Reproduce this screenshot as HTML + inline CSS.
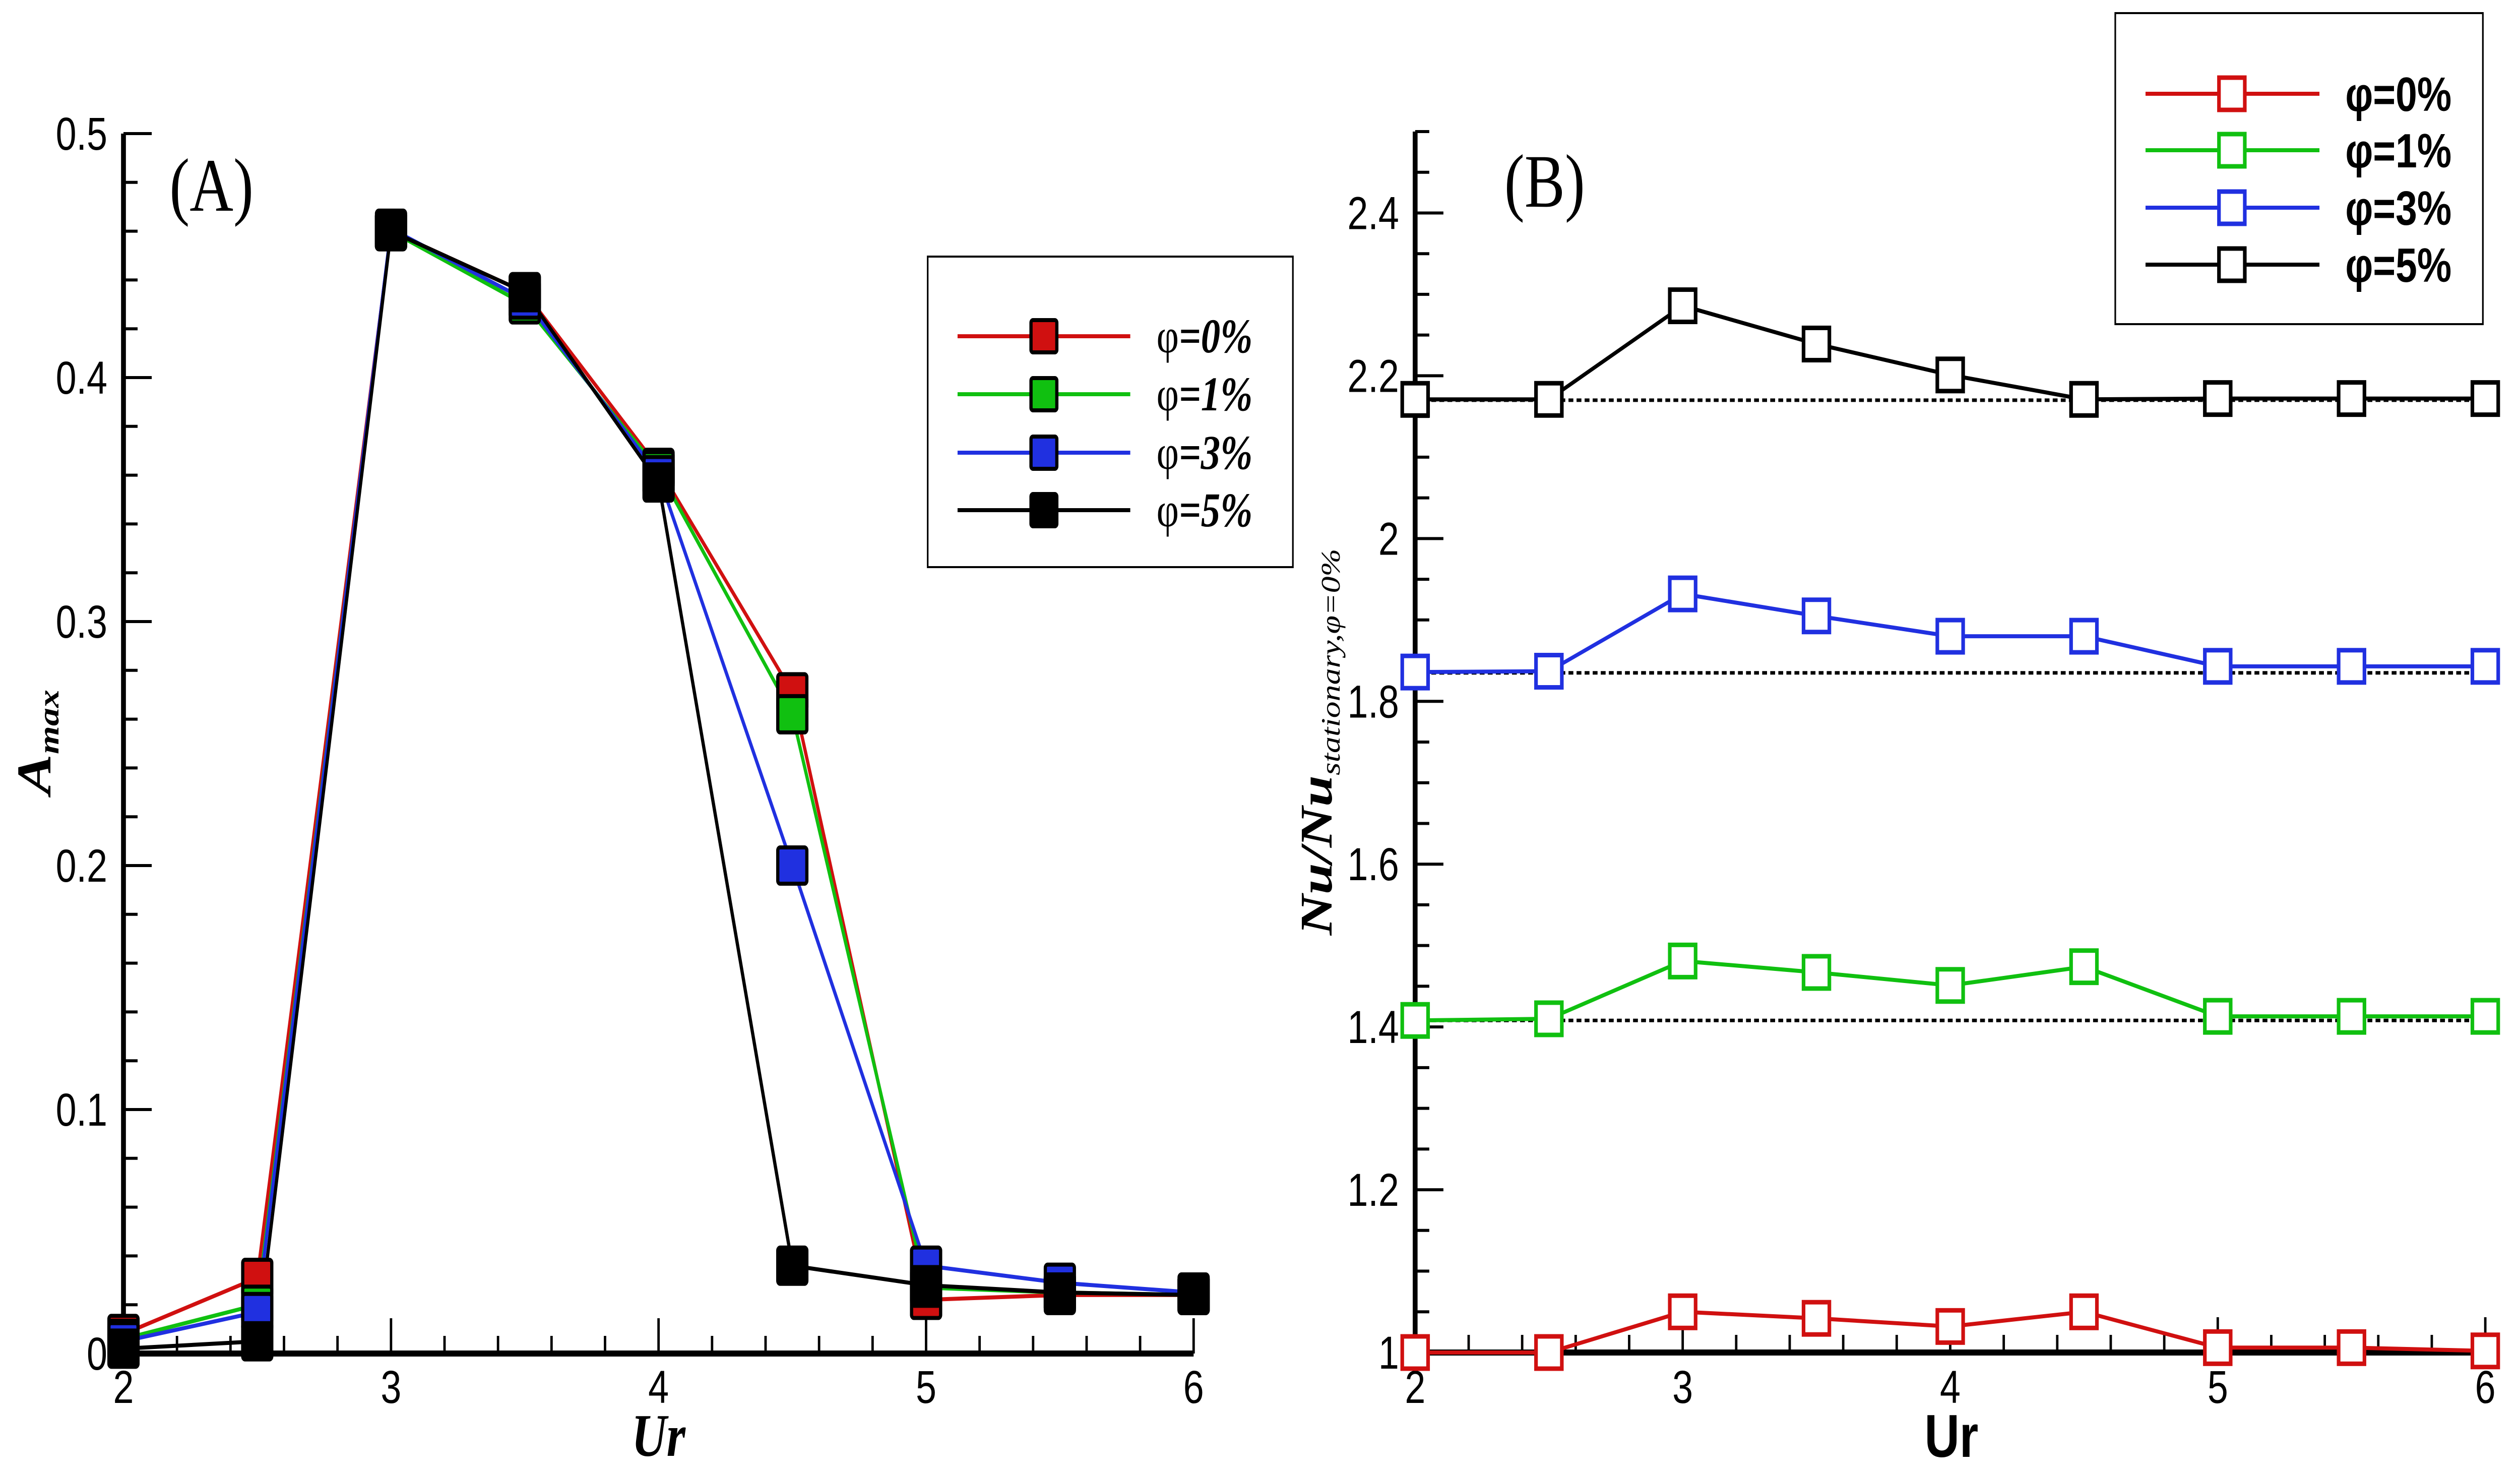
<!DOCTYPE html>
<html><head><meta charset="utf-8"><style>
html,body{margin:0;padding:0;background:#fff;overflow:hidden;width:100%;height:100%;}
svg{display:block;width:100vw;height:100vh;}
</style></head><body>
<svg id="fig" viewBox="0 0 6245 2922" preserveAspectRatio="none" xmlns="http://www.w3.org/2000/svg">
<rect width="6245" height="2922" fill="#fff"/>
<g id="panelA"></g>
<g id="panelB"></g>
</svg>
<script>
const NS="http://www.w3.org/2000/svg";
// ---- data ----
const urValues=[2,2.5,3,3.5,4,4.5,5,5.5,6];
const seriesLabels=["0%","1%","3%","5%"];
const seriesColors=["#d01010","#10c010","#2030e0","#000000"];
const amaxPhi0=[0.008,0.031,0.46,0.435,0.363,0.271,0.022,0.024,0.024];
const amaxPhi1=[0.006,0.020,0.46,0.430,0.362,0.262,0.027,0.025,0.024];
const amaxPhi3=[0.005,0.017,0.461,0.432,0.360,0.200,0.036,0.029,0.025];
const amaxPhi5=[0.002,0.005,0.46,0.435,0.357,0.036,0.028,0.025,0.024];
const nuPhi0=[1.0,1.0,1.05,1.042,1.032,1.05,1.006,1.006,1.002];
const nuPhi1=[1.408,1.41,1.481,1.467,1.451,1.474,1.413,1.413,1.413];
const nuPhi3=[1.836,1.837,1.932,1.905,1.88,1.88,1.843,1.843,1.843];
const nuPhi5=[2.171,2.171,2.286,2.239,2.201,2.171,2.172,2.172,2.172];
const nuBaselines=[1.408,1.835,2.17];
const xTicks=[2,3,4,5,6];
const aTicks=[0,0.1,0.2,0.3,0.4,0.5];
const aTickLabels=["0","0.1","0.2","0.3","0.4","0.5"];
const bTicks=[1,1.2,1.4,1.6,1.8,2,2.2,2.4];
const bTickLabels=["1","1.2","1.4","1.6","1.8","2","2.2","2.4"];

function el(parent,tag,attrs,text){const e=document.createElementNS(NS,tag);for(const k in attrs)e.setAttribute(k,attrs[k]);if(text!==undefined)e.textContent=text;parent.appendChild(e);return e;}

// ---- Panel A ----
(function(){
const g=document.getElementById('panelA');
const X0=306,X1=2958,Y0=2685,Y1=265;
const sx=v=>X0+(v-2)/4*(X1-X0);
const sy=v=>Y0-(v/0.5)*(Y0-Y1);
for(let v=0;v<=0.5001;v+=0.02){const t=el(g,'line',{x1:X0,x2:X0+(Math.abs(v*10-Math.round(v*10))<1e-6?70:35),y1:sy(v),y2:sy(v),stroke:'#000','stroke-width':6});
}
for(let v=2;v<=6.0001;v+=0.2){const maj=Math.abs(v-Math.round(v))<1e-6;const t=el(g,'line',{x1:sx(v),x2:sx(v),y1:Y0,y2:Y0-(maj?70:35),stroke:'#000','stroke-width':6});
}
const ax=el(g,'path',{d:`M${X0},${Y1} V${Y0} H${X1}`,fill:'none',stroke:'#000','stroke-width':12});

aTicks.forEach((v,i)=>{const t=el(g,'text',{x:X0-40,y:sy(v)+32,'text-anchor':'end','font-family':'Liberation Sans, sans-serif','font-size':92},aTickLabels[i]);
});
xTicks.forEach(v=>{const t=el(g,'text',{x:sx(v),y:2783,'text-anchor':'middle','font-family':'Liberation Sans, sans-serif','font-size':92},String(v));
});
const xt=el(g,'text',{x:1632,y:2888,'text-anchor':'middle','font-family':'Liberation Serif, serif','font-size':120,'font-style':'italic','font-weight':'bold'},'Ur');

const yt=el(g,'text',{transform:'translate(125,1472) rotate(-90)','text-anchor':'middle','font-family':'Liberation Serif, serif','font-size':120,'font-style':'italic','font-weight':'bold'});

el(yt,'tspan',{},'A');el(yt,'tspan',{'font-size':72,dy:20},'max');
const pl=el(g,'text',{x:420,y:418,'font-family':'Liberation Serif, serif','font-size':150},'(A)');

const all=[amaxPhi0,amaxPhi1,amaxPhi3,amaxPhi5];
all.forEach((arr,si)=>{
 const ln=el(g,'polyline',{points:arr.map((v,i)=>sx(urValues[i])+','+sy(v)).join(' '),fill:'none',stroke:seriesColors[si],'stroke-width':8});
 
});
all.forEach((arr,si)=>{
 arr.forEach((v,i)=>{const m=el(g,'rect',{x:sx(urValues[i])-36,y:sy(v)-36,width:72,height:72,rx:6,fill:seriesColors[si],stroke:'#000','stroke-width':8});
 });
});
const lg=el(g,'g',{});
el(lg,'rect',{x:2299,y:509,width:905,height:616,fill:'#fff',stroke:'#000','stroke-width':4});
const ly=[667,782,898,1012];
seriesLabels.forEach((s,i)=>{const e=el(lg,'g',{});
 el(e,'line',{x1:2373,x2:2801,y1:ly[i],y2:ly[i],stroke:seriesColors[i],'stroke-width':8});
 el(e,'rect',{x:2587-32,y:ly[i]-32,width:64,height:64,rx:5,fill:seriesColors[i],stroke:'#000','stroke-width':8});
 const t=el(e,'text',{x:2866,y:ly[i]+32,'font-family':'Liberation Serif, serif','font-size':96});
 el(t,'tspan',{},'φ');el(t,'tspan',{'font-style':'italic','font-weight':'bold'},'='+s);});
})();

// ---- Panel B ----
(function(){
const g=document.getElementById('panelB');
const X0=3507,X1=6159,Y0=2683,Y1=261;
const sx=v=>X0+(v-2)/4*(X1-X0);
const sy=v=>Y0-(v-1)/1.5*(Y0-Y1);
for(let k=0;k<=30;k++){const v=1+k*0.05;const maj=(k%4===0);const t=el(g,'line',{x1:X0,x2:X0+(maj?70:35),y1:sy(v),y2:sy(v),stroke:'#000','stroke-width':6});
}
for(let v=2;v<=6.0001;v+=0.2){const maj=Math.abs(v-Math.round(v))<1e-6;const t=el(g,'line',{x1:sx(v),x2:sx(v),y1:Y0,y2:Y0-(maj?70:35),stroke:'#000','stroke-width':6});
}
const ax=el(g,'path',{d:`M${X0},${Y1} V${Y0} H${X1}`,fill:'none',stroke:'#000','stroke-width':12});

bTicks.forEach((v,i)=>{const t=el(g,'text',{x:X0-40,y:sy(v)+32,'text-anchor':'end','font-family':'Liberation Sans, sans-serif','font-size':92},bTickLabels[i]);
});
xTicks.forEach(v=>{const t=el(g,'text',{x:sx(v),y:2783,'text-anchor':'middle','font-family':'Liberation Sans, sans-serif','font-size':92},String(v));
});
const xt=el(g,'text',{x:4836,y:2890,'text-anchor':'middle','font-family':'Liberation Sans, sans-serif','font-size':120,'font-weight':'bold'},'Ur');

const yt=el(g,'text',{transform:'translate(3300,1472) rotate(-90)','text-anchor':'middle','font-family':'Liberation Serif, serif','font-size':112,'font-style':'italic','font-weight':'bold'});

el(yt,'tspan',{},'Nu/Nu');el(yt,'tspan',{'font-size':66,dy:20,'font-weight':'normal'},'stationary,φ=0%');
const pl=el(g,'text',{x:3728,y:410,'font-family':'Liberation Serif, serif','font-size':150},'(B)');

nuBaselines.forEach(v=>{const d=el(g,'line',{x1:X0,x2:X1,y1:sy(v),y2:sy(v),stroke:'#000','stroke-width':7,'stroke-dasharray':'12,8'});
});
const all=[nuPhi0,nuPhi1,nuPhi3,nuPhi5];
all.forEach((arr,si)=>{
 const ln=el(g,'polyline',{points:arr.map((v,i)=>sx(urValues[i])+','+sy(v)).join(' '),fill:'none',stroke:seriesColors[si],'stroke-width':8});
 
 arr.forEach((v,i)=>{const m=el(g,'rect',{x:sx(urValues[i])-32,y:sy(v)-32,width:64,height:64,fill:'#fff',stroke:seriesColors[si],'stroke-width':9});
 });
});
const lg=el(g,'g',{});
el(lg,'rect',{x:5242,y:26,width:911,height:617,fill:'#fff',stroke:'#000','stroke-width':4});
const ly=[186,298,412,525];
seriesLabels.forEach((s,i)=>{const e=el(lg,'g',{});
 el(e,'line',{x1:5317,x2:5748,y1:ly[i],y2:ly[i],stroke:seriesColors[i],'stroke-width':8});
 el(e,'rect',{x:5531-32,y:ly[i]-32,width:64,height:64,fill:'#fff',stroke:seriesColors[i],'stroke-width':9});
 const t=el(e,'text',{x:5812,y:ly[i]+34,'font-family':'Liberation Sans, sans-serif','font-size':96,'font-weight':'bold'},'φ='+s);});
})();
</script>
</body></html>
